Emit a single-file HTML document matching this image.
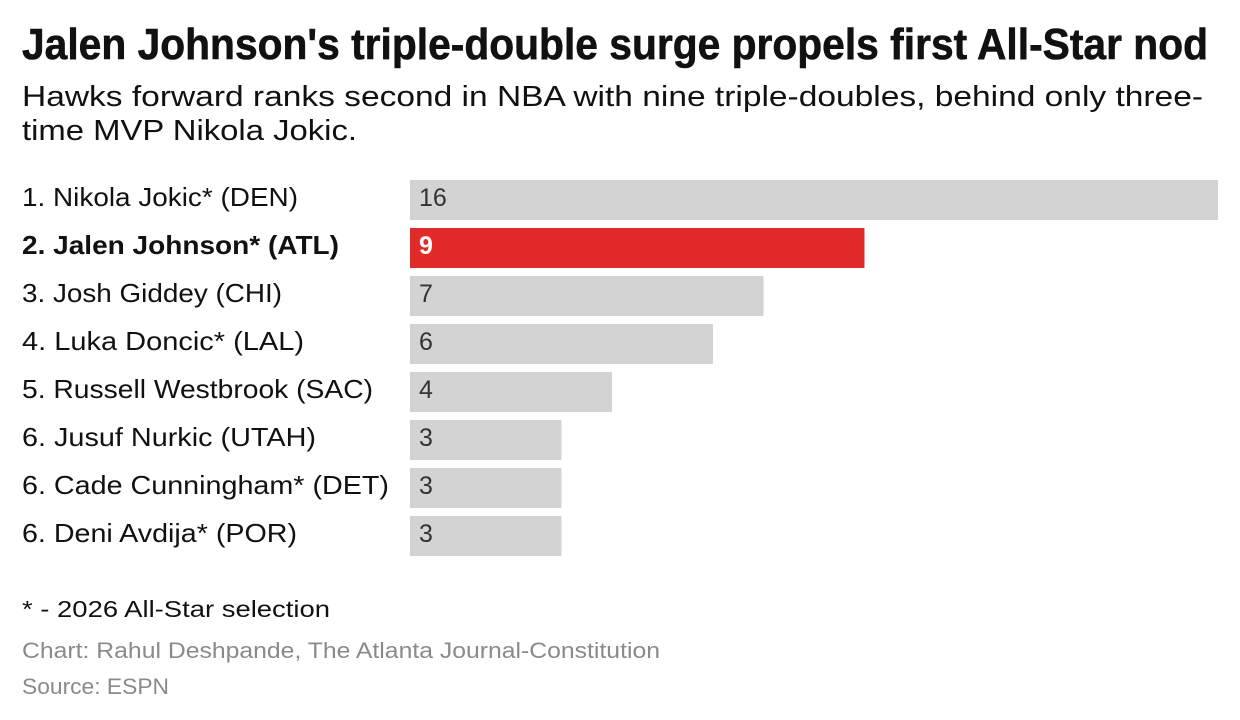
<!DOCTYPE html>
<html>
<head>
<meta charset="utf-8">
<style>
  html, body { margin: 0; padding: 0; background: #ffffff; }
  body { width: 1240px; height: 720px; overflow: hidden; }
  svg { display: block; }
  text { font-family: "Liberation Sans", "DejaVu Sans", sans-serif; }
</style>
</head>
<body>
<svg width="1240" height="720" viewBox="0 0 1240 720" xmlns="http://www.w3.org/2000/svg">
  <rect x="0" y="0" width="1240" height="720" fill="#ffffff"/>

  <!-- Title -->
  <text x="22" y="59" font-size="44" font-weight="bold" fill="#111111" stroke="#111111" stroke-width="0.6" textLength="1186" lengthAdjust="spacingAndGlyphs">Jalen Johnson's triple-double surge propels first All-Star nod</text>

  <!-- Subtitle -->
  <text x="22" y="106" font-size="29" fill="#111111" textLength="1181" lengthAdjust="spacingAndGlyphs">Hawks forward ranks second in NBA with nine triple-doubles, behind only three-</text>
  <text x="22" y="140" font-size="29" fill="#111111" textLength="335" lengthAdjust="spacingAndGlyphs">time MVP Nikola Jokic.</text>

  <!-- Bars -->
  <rect x="410" y="180" width="808" height="40" fill="#d3d3d3"/>
  <rect x="410" y="228" width="454.5" height="40" fill="#e12b2b"/>
  <rect x="410" y="276" width="353.5" height="40" fill="#d3d3d3"/>
  <rect x="410" y="324" width="303" height="40" fill="#d3d3d3"/>
  <rect x="410" y="372" width="202" height="40" fill="#d3d3d3"/>
  <rect x="410" y="420" width="151.5" height="40" fill="#d3d3d3"/>
  <rect x="410" y="468" width="151.5" height="40" fill="#d3d3d3"/>
  <rect x="410" y="516" width="151.5" height="40" fill="#d3d3d3"/>

  <!-- Values -->
  <g font-size="25" fill="#333333">
    <text x="419" y="206">16</text>
    <text x="419" y="254" fill="#ffffff" font-weight="bold">9</text>
    <text x="419" y="302">7</text>
    <text x="419" y="350">6</text>
    <text x="419" y="398">4</text>
    <text x="419" y="446">3</text>
    <text x="419" y="494">3</text>
    <text x="419" y="542">3</text>
  </g>

  <!-- Labels -->
  <g font-size="26" fill="#111111">
    <text x="22" y="206" textLength="276" lengthAdjust="spacingAndGlyphs">1. Nikola Jokic* (DEN)</text>
    <text x="22" y="254" font-weight="bold" textLength="317" lengthAdjust="spacingAndGlyphs">2. Jalen Johnson* (ATL)</text>
    <text x="22" y="302" textLength="260" lengthAdjust="spacingAndGlyphs">3. Josh Giddey (CHI)</text>
    <text x="22" y="350" textLength="282" lengthAdjust="spacingAndGlyphs">4. Luka Doncic* (LAL)</text>
    <text x="22" y="398" textLength="351" lengthAdjust="spacingAndGlyphs">5. Russell Westbrook (SAC)</text>
    <text x="22" y="446" textLength="294" lengthAdjust="spacingAndGlyphs">6. Jusuf Nurkic (UTAH)</text>
    <text x="22" y="494" textLength="367" lengthAdjust="spacingAndGlyphs">6. Cade Cunningham* (DET)</text>
    <text x="22" y="542" textLength="275" lengthAdjust="spacingAndGlyphs">6. Deni Avdija* (POR)</text>
  </g>

  <!-- Footnotes -->
  <text x="22" y="617" font-size="23" fill="#111111" textLength="308" lengthAdjust="spacingAndGlyphs">* - 2026 All-Star selection</text>
  <text x="22" y="658" font-size="22" fill="#8a8a8a" textLength="638" lengthAdjust="spacingAndGlyphs">Chart: Rahul Deshpande, The Atlanta Journal-Constitution</text>
  <text x="22" y="694" font-size="22" fill="#8a8a8a" textLength="147" lengthAdjust="spacingAndGlyphs">Source: ESPN</text>
</svg>
</body>
</html>
